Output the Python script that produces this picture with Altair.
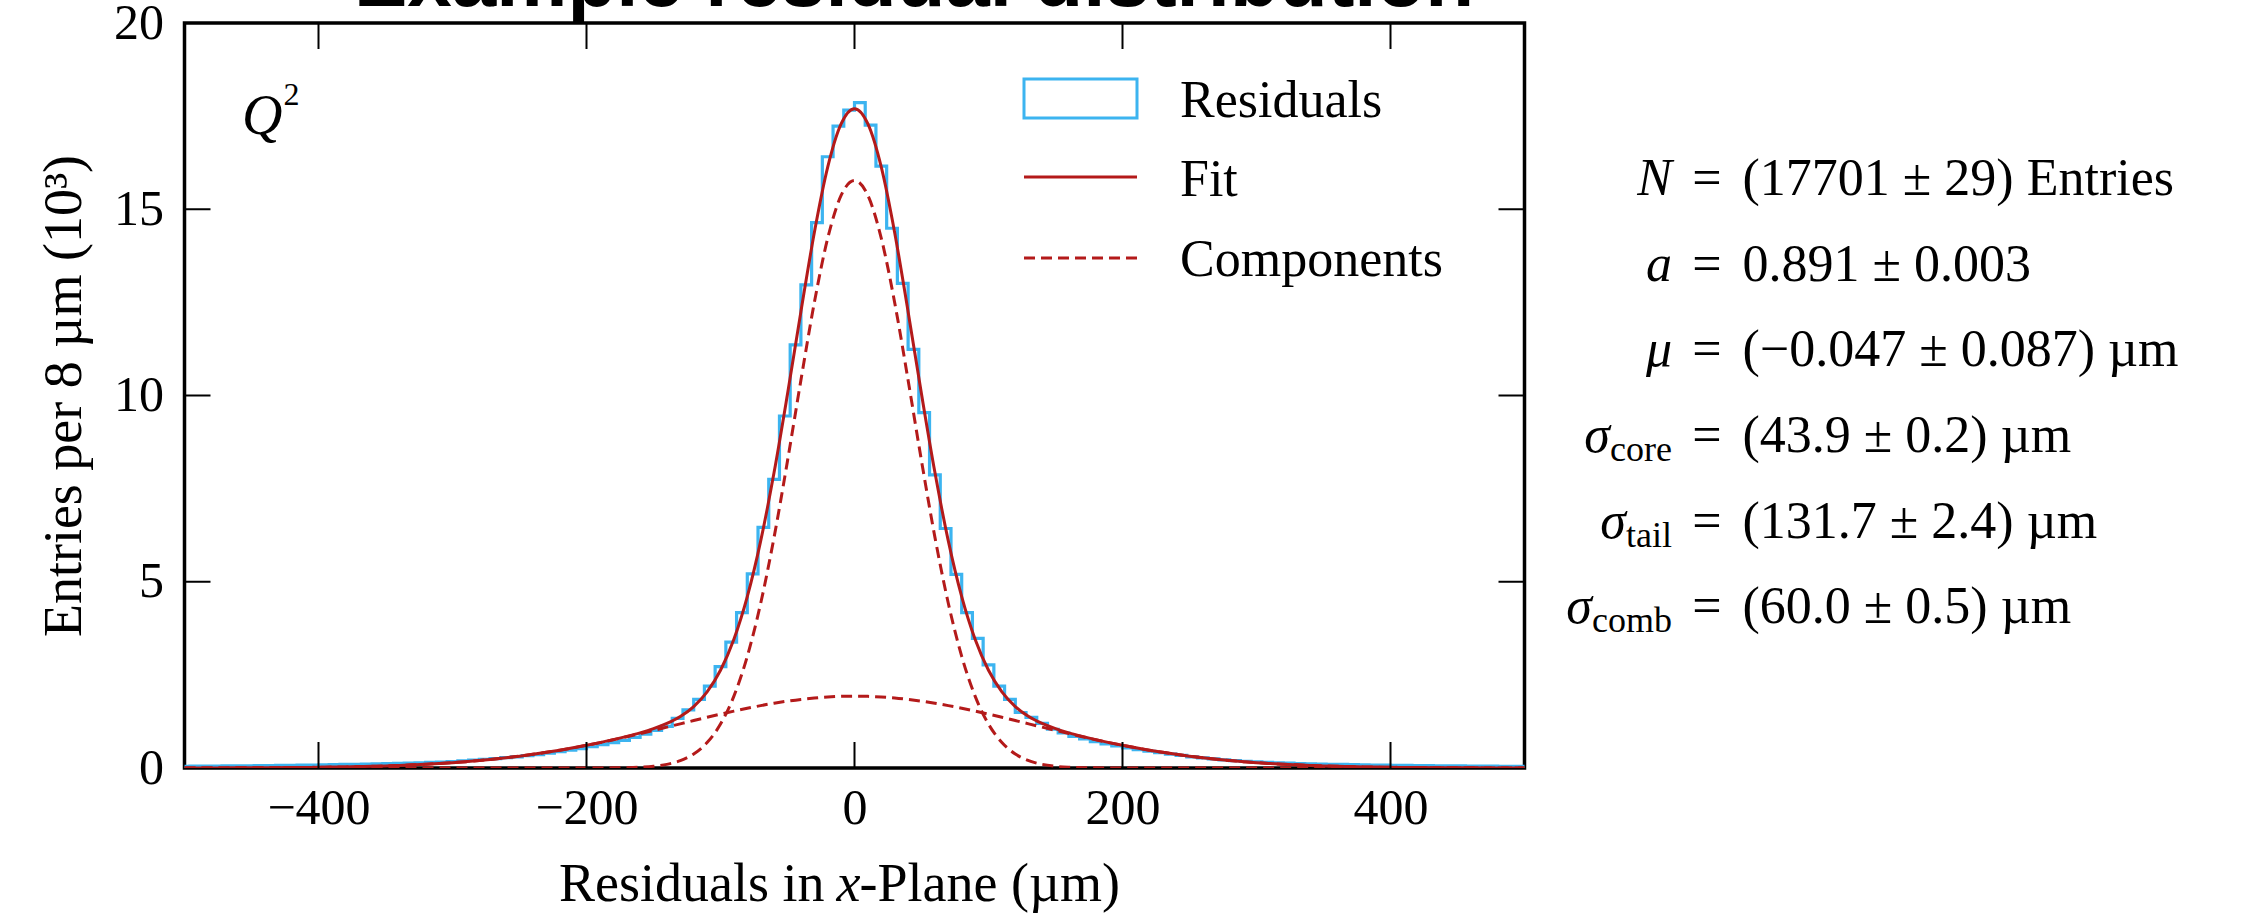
import altair as alt
import pandas as pd

SERIF = "Liberation Serif"
BLUE = "#3CB4F0"
RED = "#B41A1A"

# ---------------- data ----------------
# histogram: 8 µm bins, centres -500 ... 500 (entries in 10^3)
hist_centers = list(range(-500, 501, 8))
hist_counts = [
    0.046, 0.048, 0.050, 0.053, 0.055, 0.058, 0.060, 0.062, 0.065, 0.068,   # -500..-428
    0.070, 0.075, 0.080, 0.085, 0.090, 0.095, 0.100, 0.105, 0.110, 0.120,   # -420..-348
    0.125, 0.130, 0.140, 0.150, 0.160, 0.175, 0.190, 0.210, 0.230, 0.250,   # -340..-268
    0.280, 0.300, 0.330, 0.360, 0.400, 0.440, 0.480, 0.520, 0.570, 0.630,   # -260..-188
    0.680, 0.740, 0.820, 0.910, 1.010, 1.120, 1.330, 1.560, 1.840, 2.200,   # -180..-108
    2.720, 3.380, 4.170, 5.210, 6.460, 7.750, 9.450, 11.36, 12.97, 14.64,   # -100..-28
    16.41, 17.23, 17.66,                                                     # -20..-4
    17.86, 17.26, 16.16, 14.49, 13.01, 11.24, 9.54, 7.87, 6.43, 5.20,        # 4..76
    4.17, 3.48, 2.77, 2.20, 1.84, 1.49, 1.36, 1.20, 1.04, 0.94,              # 84..156
    0.85, 0.78, 0.71, 0.65, 0.59, 0.54, 0.49, 0.45, 0.41, 0.37,              # 164..236
    0.34, 0.30, 0.27, 0.245, 0.22, 0.20, 0.18, 0.165, 0.15, 0.14,            # 244..316
    0.13, 0.12, 0.11, 0.105, 0.10, 0.095, 0.09, 0.085, 0.08, 0.075,          # 324..396
    0.072, 0.068, 0.065, 0.062, 0.060, 0.058, 0.055, 0.053, 0.050, 0.048,    # 404..476
    0.047, 0.045, 0.044,                                                     # 484..500
]

# fitted curves sampled every 10 µm, -500 ... 500
curve_x = list(range(-500, 501, 10))
fit_vals = [
    0.0014, 0.002, 0.0025, 0.003, 0.004, 0.006, 0.007, 0.009, 0.012, 0.015,
    0.019, 0.024, 0.030, 0.037, 0.046, 0.057, 0.069, 0.084, 0.101, 0.121,
    0.144, 0.171, 0.201, 0.236, 0.275, 0.318, 0.367, 0.420, 0.478, 0.541,
    0.609, 0.682, 0.762, 0.848, 0.943, 1.055, 1.195, 1.382, 1.650, 2.044,
    2.624, 3.456, 4.602, 6.098, 7.937, 10.04, 12.25, 14.37, 16.13, 17.29,
    17.70,
    17.29, 16.13, 14.37, 12.25, 10.04, 7.937, 6.098, 4.602, 3.456, 2.624,
    2.044, 1.650, 1.382, 1.195, 1.055, 0.943, 0.848, 0.762, 0.682, 0.609,
    0.541, 0.478, 0.420, 0.367, 0.318, 0.275, 0.236, 0.201, 0.171, 0.144,
    0.121, 0.101, 0.084, 0.069, 0.057, 0.046, 0.037, 0.030, 0.024, 0.019,
    0.015, 0.012, 0.009, 0.007, 0.006, 0.004, 0.003, 0.0025, 0.002, 0.0014,
]
core_vals = [
    0, 0, 0, 0, 0, 0, 0, 0, 0, 0,
    0, 0, 0, 0, 0, 0, 0, 0, 0, 0,
    0, 0, 0, 0, 0, 0, 0, 0, 0, 0,
    0.0004, 0.0013, 0.0035, 0.009, 0.021, 0.046, 0.098, 0.197, 0.376, 0.683,
    1.178, 1.929, 2.998, 4.423, 6.198, 8.245, 10.41, 12.49, 14.22, 15.37,
    15.77,
    15.37, 14.22, 12.49, 10.41, 8.245, 6.198, 4.423, 2.998, 1.929, 1.178,
    0.683, 0.376, 0.197, 0.098, 0.046, 0.021, 0.009, 0.0035, 0.0013, 0.0004,
    0, 0, 0, 0, 0, 0, 0, 0, 0, 0,
    0, 0, 0, 0, 0, 0, 0, 0, 0, 0,
    0, 0, 0, 0, 0, 0, 0, 0, 0, 0,
]
tail_vals = [
    0.0014, 0.002, 0.0025, 0.003, 0.004, 0.006, 0.007, 0.009, 0.012, 0.015,
    0.019, 0.024, 0.030, 0.037, 0.046, 0.057, 0.069, 0.084, 0.101, 0.121,
    0.144, 0.171, 0.201, 0.236, 0.275, 0.318, 0.367, 0.420, 0.478, 0.541,
    0.609, 0.681, 0.758, 0.839, 0.922, 1.009, 1.097, 1.185, 1.274, 1.361,
    1.446, 1.527, 1.604, 1.675, 1.739, 1.795, 1.842, 1.880, 1.907, 1.923,
    1.929,
    1.923, 1.907, 1.880, 1.842, 1.795, 1.739, 1.675, 1.604, 1.527, 1.446,
    1.361, 1.274, 1.185, 1.097, 1.009, 0.922, 0.839, 0.758, 0.681, 0.609,
    0.541, 0.478, 0.420, 0.367, 0.318, 0.275, 0.236, 0.201, 0.171, 0.144,
    0.121, 0.101, 0.084, 0.069, 0.057, 0.046, 0.037, 0.030, 0.024, 0.019,
    0.015, 0.012, 0.009, 0.007, 0.006, 0.004, 0.003, 0.0025, 0.002, 0.0014,
]

x_ticks = [-400, -200, 0, 200, 400]
y_ticks = [0, 5, 10, 15, 20]
y_inner_ticks = [5, 10, 15]

fit_params = [
    ("N", "", "(17701 ± 29) Entries"),
    ("a", "", "0.891 ± 0.003"),
    ("μ", "", "(−0.047 ± 0.087) µm"),
    ("σ", "core", "(43.9 ± 0.2) µm"),
    ("σ", "tail", "(131.7 ± 2.4) µm"),
    ("σ", "comb", "(60.0 ± 0.5) µm"),
]
legend_labels = ["Residuals", "Fit", "Components"]
y_title = "Entries per 8 µm (10³)"

# ---------------- tables ----------------
W, H = 1340, 745
hist_df = pd.DataFrame({
    "edge": [c - 4 for c in hist_centers] + [hist_centers[-1] + 4],
    "count": hist_counts + [hist_counts[-1]],
})
curve_df = pd.DataFrame({"x": curve_x, "fit": fit_vals, "core": core_vals, "tail": tail_vals})
xt_df = pd.DataFrame({"v": x_ticks})
yt_df = pd.DataFrame({"v": y_inner_ticks})
one = pd.DataFrame({"k": [0]})

xs = alt.Scale(domain=[-500, 500], nice=False, zero=False)
ys = alt.Scale(domain=[0, 20], nice=False, zero=False)

x_axis = alt.Axis(values=x_ticks, format="d", labelPadding=55,
                  labelBaseline="alphabetic", title=None)
y_axis = alt.Axis(values=y_ticks, labelPadding=21, title=y_title,
                  titleX=-104.5, titleY=372.5, titleAngle=270,
                  titleAlign="center", titleBaseline="alphabetic",
                  titleFont=SERIF, titleFontSize=54,
                  titleFontWeight="normal", titleColor="black")


def X(field):
    return alt.X(field, scale=xs, axis=x_axis, title=None)


def Y(field):
    return alt.Y(field, scale=ys, axis=y_axis, title=y_title)


hist = alt.Chart(hist_df).mark_line(
    interpolate="step-after", color=BLUE, strokeWidth=3.2, clip=True
).encode(x=X("edge:Q"), y=Y("count:Q"))


def curve(field, dash=None):
    kw = dict(color=RED, strokeWidth=3, interpolate="monotone", clip=True)
    if dash:
        kw["strokeDash"] = dash
    return alt.Chart(curve_df).mark_line(**kw).encode(
        x=X("x:Q"), y=Y(f"{field}:Q"))


tail = curve("tail", [11, 6])
core = curve("core", [11, 6])
fit = curve("fit")

# inward ticks on all four sides
tk = dict(color="black", strokeWidth=2)
t_bottom = alt.Chart(xt_df).mark_rule(**tk).encode(
    x=X("v:Q"), y=alt.value(H), y2=alt.value(H - 26))
t_top = alt.Chart(xt_df).mark_rule(**tk).encode(
    x=X("v:Q"), y=alt.value(0), y2=alt.value(26))
t_left = alt.Chart(yt_df).mark_rule(**tk).encode(
    y=Y("v:Q"), x=alt.value(0), x2=alt.value(26))
t_right = alt.Chart(yt_df).mark_rule(**tk).encode(
    y=Y("v:Q"), x=alt.value(W), x2=alt.value(W - 26))


def label(s, x, y, size=52, align="left", style="normal", font=SERIF,
          weight="normal"):
    return alt.Chart(one).mark_text(
        text=s, align=align, baseline="alphabetic", font=font, fontSize=size,
        fontStyle=style, fontWeight=weight, color="black",
    ).encode(x=alt.value(x), y=alt.value(y))


layers = [hist, tail, core, fit, t_bottom, t_top, t_left, t_right]

# title (partly cut off at the top of the page)
layers.append(label("Example residual distribution", 169.5, -17, size=80,
                    font="Liberation Sans", weight="bold"))

# x axis title with italic x
layers.append(label("Residuals in", 640, 878, size=54, align="right"))
layers.append(label("x", 652, 878, size=54, style="italic"))
layers.append(label("-Plane (µm)", 675, 878, size=54))

# Q^2 tag
layers.append(label("Q", 57.5, 111, size=56, style="italic"))
layers.append(label("2", 99, 82, size=32))

# legend
layers.append(alt.Chart(one).mark_rect(fill="white", fillOpacity=0, stroke=BLUE,
                                       strokeWidth=3).encode(
    x=alt.value(839.5), x2=alt.value(952.5), y=alt.value(56), y2=alt.value(95)))
layers.append(alt.Chart(one).mark_rule(color=RED, strokeWidth=3).encode(
    x=alt.value(839.5), x2=alt.value(952.5), y=alt.value(154)))
layers.append(alt.Chart(one).mark_rule(color=RED, strokeWidth=3,
                                       strokeDash=[11, 6]).encode(
    x=alt.value(839.5), x2=alt.value(952.5), y=alt.value(235)))
for lab, yy in zip(legend_labels, [94, 173, 253]):
    layers.append(label(lab, 995.5, yy))

# fit-parameter block to the right of the plot
row_y = [172, 258, 343, 429, 515, 600]
sigma_right = {"core": 1425.5, "tail": 1441.5, "comb": 1407.5}
for (sym, sub, rhs), yy in zip(fit_params, row_y):
    if sub:
        layers.append(label(sym, sigma_right[sub], yy, style="italic", align="right"))
        layers.append(label(sub, 1487.5, yy + 9, size=36, align="right"))
    else:
        layers.append(label(sym, 1487.5, yy, style="italic", align="right"))
    layers.append(label("=", 1522.5, yy, align="center"))
    layers.append(label(rhs, 1558, yy))

chart = alt.layer(*layers).properties(
    width=W, height=H,
    autosize=alt.AutoSizeParams(type="none"),
    padding={"left": 184.5, "top": 23, "right": 724.5, "bottom": 146},
    background="white",
).configure_view(
    stroke="black", strokeWidth=3.5
).configure_axis(
    grid=False, domain=False, ticks=False, tickSize=0,
    labelFont=SERIF, labelFontSize=50, labelColor="black",
    labelOverlap=False, labelFlush=False,
)

chart.save("out.html", embed_options={"renderer": "svg", "actions": False})
